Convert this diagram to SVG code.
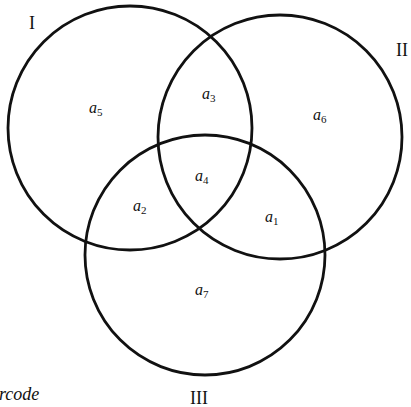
<svg xmlns="http://www.w3.org/2000/svg" width="411" height="407" viewBox="0 0 411 407">
<style>
.c{fill:none;stroke:#111;stroke-width:2.8}
.v{font-family:"Liberation Serif",serif;font-style:italic;font-size:16px;fill:#111}
.s{font-size:11px;font-style:normal}
.r{font-family:"Liberation Serif",serif;font-size:18px;fill:#111}
</style>
<rect width="411" height="407" fill="#fff"/>
<g id="circles">
<circle id="circleI" class="c" cx="130" cy="128" r="122"/>
<circle id="circleII" class="c" cx="280" cy="137" r="122"/>
<circle id="circleIII" class="c" cx="205" cy="255" r="120"/>
</g>
<g id="labels">
<text class="r" x="29" y="29">I</text>
<text class="r" x="396" y="56">II</text>
<text class="r" x="190" y="404">III</text>
<text class="v" x="-1" y="400" style="font-size:18px">rcode</text>
<text class="v" x="89" y="113">a<tspan class="s" dy="3">5</tspan></text>
<text class="v" x="202" y="99">a<tspan class="s" dy="3">3</tspan></text>
<text class="v" x="313" y="120">a<tspan class="s" dy="3">6</tspan></text>
<text class="v" x="195" y="181">a<tspan class="s" dy="3">4</tspan></text>
<text class="v" x="133" y="211">a<tspan class="s" dy="3">2</tspan></text>
<text class="v" x="265" y="222">a<tspan class="s" dy="3">1</tspan></text>
<text class="v" x="195" y="295">a<tspan class="s" dy="3">7</tspan></text>
</g>
</svg>
